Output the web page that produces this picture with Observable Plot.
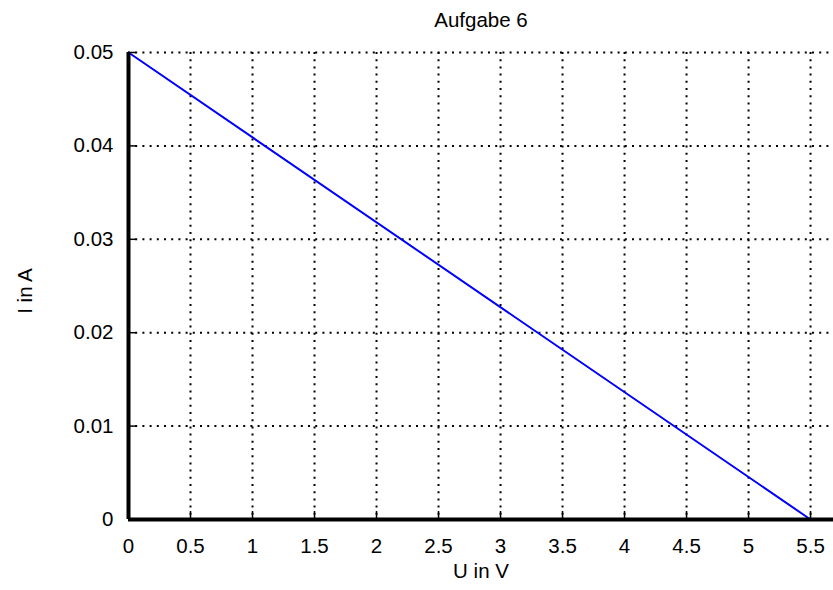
<!DOCTYPE html>
<html>
<head>
<meta charset="utf-8">
<script src="https://cdn.jsdelivr.net/npm/d3@7"></script>
<script src="https://cdn.jsdelivr.net/npm/@observablehq/plot@0.6"></script>
<style>
  html, body { margin: 0; padding: 0; background: #fff; }
  svg { display: block; }
</style>
</head>
<body>
<div id="chart"></div>
<script>
// Data
const U = [0, 5.5];          // voltage in V
const I = [0.05, 0];         // current in A
const xTicks = [0, 0.5, 1, 1.5, 2, 2.5, 3, 3.5, 4, 4.5, 5, 5.5];
const yTicks = [0, 0.01, 0.02, 0.03, 0.04, 0.05];
const title = "Aufgabe 6";
const xLabel = "U in V";
const yLabel = "I in A";

const line = U.map((u, i) => ({U: u, I: I[i]}));

const chart = Plot.plot({
  width: 833,
  height: 590,
  marginLeft: 128,
  marginRight: 0,
  marginTop: 52,
  marginBottom: 71,
  x: {domain: [0, 5.685]},
  y: {domain: [0, 0.05]},
  style: {fontFamily: "'Liberation Sans', Arial, sans-serif", fontSize: "20.5px", color: "black", background: "white"},
  marks: [
    Plot.gridX(xTicks, {stroke: "black", strokeOpacity: 1, strokeWidth: 2, strokeDasharray: "2,5.2"}),
    Plot.gridY(yTicks, {stroke: "black", strokeOpacity: 1, strokeWidth: 2, strokeDasharray: "2,5.2"}),
    // inward tick marks
    Plot.ruleX(xTicks, {x: d => d, y1: 0, y2: 0, insetTop: -8, stroke: "black", strokeWidth: 1.5}),
    Plot.ruleY(yTicks, {y: d => d, x1: 0, x2: 0, insetRight: -8, stroke: "black", strokeWidth: 1.5}),
    Plot.axisX(xTicks, {tickSize: 0, tickPadding: 19, label: null, tickFormat: d => String(d)}),
    Plot.axisY(yTicks, {tickSize: 0, tickPadding: 15, label: null, tickFormat: d => String(d)}),
    Plot.line(line, {x: "U", y: "I", stroke: "#0000ff", strokeWidth: 2}),
    Plot.ruleY([0], {stroke: "black", strokeWidth: 4}),
    Plot.ruleX([0], {stroke: "black", strokeWidth: 4}),
    Plot.text([title], {frameAnchor: "top", lineAnchor: "middle", textAnchor: "middle", dy: -32, fill: "black"}),
    Plot.text([xLabel], {frameAnchor: "bottom", lineAnchor: "middle", textAnchor: "middle", dy: 52, fill: "black"}),
    Plot.text([yLabel], {frameAnchor: "left", lineAnchor: "middle", textAnchor: "middle", rotate: -90, dx: -103, dy: 5, fill: "black"})
  ]
});
document.getElementById("chart").appendChild(chart);
</script>
</body>
</html>
